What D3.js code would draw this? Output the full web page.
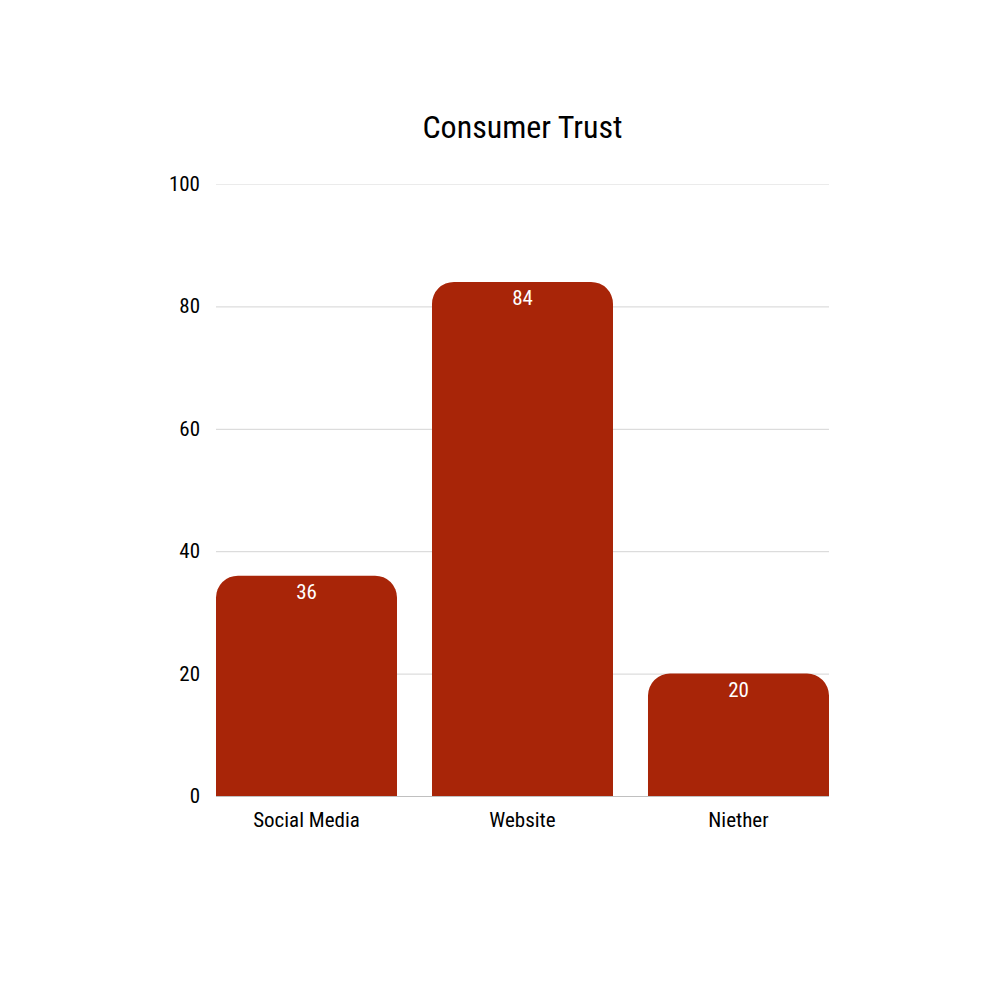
<!DOCTYPE html>
<html>
<head>
<meta charset="utf-8">
<script src="https://cdn.jsdelivr.net/npm/d3@7"></script>
<style>
  body { margin: 0; background: #fff; }
  text { font-family: "Roboto Condensed", "Liberation Sans Narrow", "DejaVu Sans Condensed", sans-serif; font-stretch: condensed; }
</style>
</head>
<body>
<svg id="chart" width="1000" height="1000"></svg>
<script>
// data
var categories = ["Social Media", "Website", "Niether"];
var trust = [36, 84, 20];
var yTicks = [0, 20, 40, 60, 80, 100];

var svg = d3.select("svg#chart");

var plotLeft = 216, plotRight = 829, plotTop = 184, plotBottom = 796,
    radius = 22, barColor = "#a82508";

var x = d3.scaleBand()
          .domain(categories)
          .range([plotLeft, plotRight])
          .paddingInner(0.162)
          .paddingOuter(0);

var y = d3.scaleLinear()
          .domain([0, 100])
          .range([plotBottom, plotTop]);

// title
svg.append("text")
   .attr("x", (plotLeft + plotRight) / 2)
   .attr("y", 138)
   .attr("text-anchor", "middle")
   .style("font-size", "32px")
   .style("fill", "#000")
   .text("Consumer Trust");

// gridlines
svg.selectAll("line.grid")
   .data(yTicks)
   .enter().append("line")
   .attr("class", "grid")
   .attr("x1", plotLeft)
   .attr("x2", plotRight)
   .attr("y1", function(d) { return y(d) + 0.5; })
   .attr("y2", function(d) { return y(d) + 0.5; })
   .style("stroke", function(d) { return d === 0 ? "#c0c0c0" : (d === 100 ? "#ebebeb" : "#d4d4d4"); })
   .style("stroke-width", 1);

// y tick labels
svg.selectAll("text.ytick")
   .data(yTicks)
   .enter().append("text")
   .attr("class", "ytick")
   .attr("x", 200)
   .attr("y", function(d) { return y(d) + 7; })
   .attr("text-anchor", "end")
   .style("font-size", "21px")
   .style("fill", "#000")
   .text(function(d) { return d; });

// bars with rounded top corners
function barPath(d, i) {
  var x0 = x(categories[i]), w = x.bandwidth(),
      y0 = y(d), y1 = y(0), r = Math.min(radius, (y1 - y0));
  return "M" + x0 + "," + y1 +
         "V" + (y0 + r) +
         "A" + r + "," + r + " 0 0 1 " + (x0 + r) + "," + y0 +
         "H" + (x0 + w - r) +
         "A" + r + "," + r + " 0 0 1 " + (x0 + w) + "," + (y0 + r) +
         "V" + y1 + "Z";
}

svg.selectAll("path.bar")
   .data(trust)
   .enter().append("path")
   .attr("class", "bar")
   .attr("d", barPath)
   .style("fill", barColor);

// value labels
svg.selectAll("text.value")
   .data(trust)
   .enter().append("text")
   .attr("class", "value")
   .attr("x", function(d, i) { return x(categories[i]) + x.bandwidth() / 2; })
   .attr("y", function(d) { return y(d) + 23; })
   .attr("text-anchor", "middle")
   .style("font-size", "21px")
   .style("fill", "#fff")
   .text(function(d) { return d; });

// category labels
svg.selectAll("text.cat")
   .data(categories)
   .enter().append("text")
   .attr("class", "cat")
   .attr("x", function(d) { return x(d) + x.bandwidth() / 2; })
   .attr("y", 827)
   .attr("text-anchor", "middle")
   .style("font-size", "21px")
   .style("fill", "#000")
   .text(function(d) { return d; });
</script>
</body>
</html>
